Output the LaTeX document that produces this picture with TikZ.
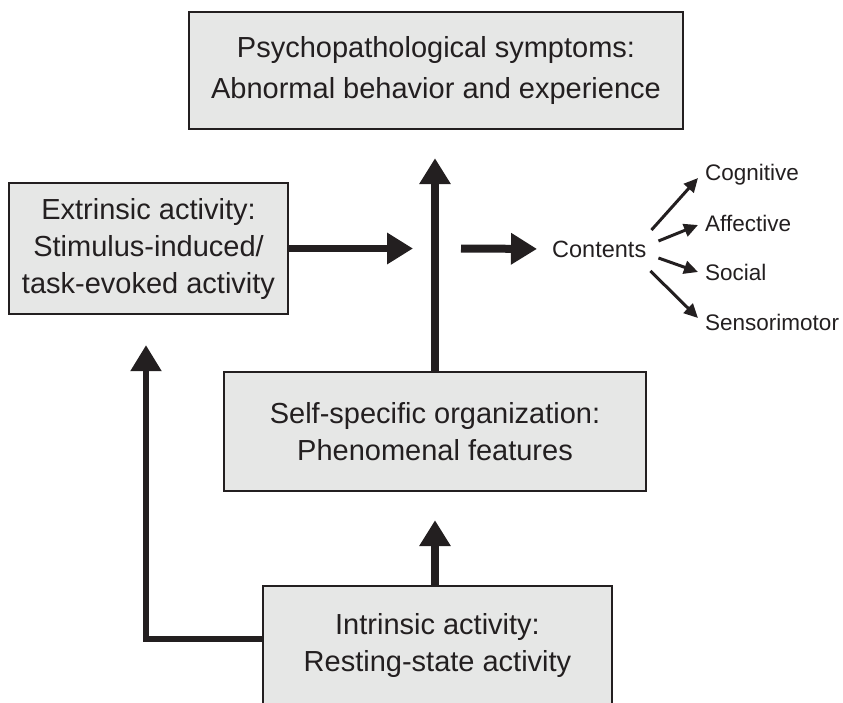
\documentclass[tikz,border=0pt]{standalone}
\usepackage{fontspec}
\setmainfont{Liberation Sans}
\usetikzlibrary{arrows.meta}
\definecolor{ink}{HTML}{231F20}
\definecolor{boxfill}{HTML}{E6E7E6}
\begin{document}
\begin{tikzpicture}[x=1pt,y=-1pt,
  every node/.style={text=ink},
  panel/.style={draw=ink,line width=2.4pt,fill=boxfill,inner sep=0pt,
    align=center,font=\fontsize{29}{37}\selectfont},
  bigarrow/.style={draw=ink,line width=#1,
    -{Triangle[width=30pt,length=26pt]}},
  bigarrow/.default=8pt,
  smallarrow/.style={draw=ink,line width=3pt,
    -{Triangle[width=13pt,length=14pt]}},
  label/.style={anchor=west,inner sep=0pt,font=\fontsize{22.5}{27}\selectfont}]
\useasboundingbox (0,0) rectangle (843,702);

% boxes
\node[panel,minimum width=494pt,minimum height=117pt] (symptoms) at (436,70.5)
  {Psychopathological symptoms:\\[4pt]Abnormal behavior and experience};
\node[panel,minimum width=279pt,minimum height=131pt] (extrinsic) at (148.5,248.5)
  {Extrinsic activity:\\Stimulus-induced/\\task-evoked activity};
\node[panel,minimum width=422pt,minimum height=119pt] (self) at (435,431.5)
  {Self-specific organization:\\Phenomenal features};
\node[panel,minimum width=349pt,minimum height=118pt] (intrinsic) at (437.5,645)
  {Intrinsic activity:\\Resting-state activity};

% contents and its branches
\node[inner sep=0pt,anchor=west,font=\fontsize{23.5}{28}\selectfont] (contents) at (552,249) {Contents};
\node[label] (cog) at (705,175) {Cognitive};
\node[label] (aff) at (705,223) {Affective};
\node[label] (soc) at (705,272) {Social};
\node[label] (sen) at (705,322) {Sensorimotor};

\coordinate (junction) at (extrinsic.east -| self.north);

% main flow
\draw[bigarrow=8.5pt,shorten >=28pt] (self.north) -- (symptoms.south -| self.north);
\draw[bigarrow=7pt,shorten >=22pt] (extrinsic.east) -- (junction);
\draw[bigarrow=8pt,shorten >=15pt] ([xshift=26pt]junction) -- (contents.west);
\draw[bigarrow=8.5pt,shorten >=28pt] (intrinsic.north -| self.south) -- (self.south);
\draw[bigarrow=5.5pt,shorten >=30pt] ([yshift=6pt]intrinsic.west)
  -| ([xshift=-2.5pt]extrinsic.south);

% branches
\draw[smallarrow] ([shift={(5,-19)}]contents.east) -- ([shift={(-7,3)}]cog.west);
\draw[smallarrow] ([shift={(12,-8)}]contents.east) -- ([shift={(-7,2)}]aff.west);
\draw[smallarrow] ([shift={(12,9)}]contents.east) -- ([shift={(-7,0)}]soc.west);
\draw[smallarrow] ([shift={(4,22)}]contents.east) -- ([shift={(-7,-4)}]sen.west);
\end{tikzpicture}
\end{document}
